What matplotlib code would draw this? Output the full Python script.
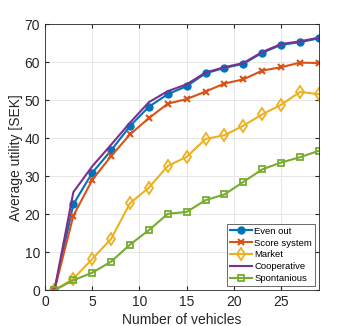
import numpy as np
import matplotlib
matplotlib.use("Agg")
import matplotlib.pyplot as plt

#==========================
# DATA
#==========================
vehicles = [1, 3, 5, 7, 9, 11, 13, 15, 17, 19, 21, 23, 25, 27, 29]

even_out = [0, 22.6, 30.9, 36.8, 43.2, 48.3, 51.6, 53.7, 57.1, 58.5, 59.6, 62.5, 64.6, 65.3, 66.3]
score_system = [0, 19.6, 29.0, 35.3, 41.0, 45.3, 49.1, 50.3, 52.3, 54.4, 55.5, 57.8, 58.7, 59.9, 59.8]
market = [0, 3.0, 8.2, 13.5, 22.9, 27.0, 32.7, 35.1, 39.8, 40.8, 43.3, 46.3, 48.8, 52.2, 51.6]
cooperative = [0, 25.8, 32.6, 38.3, 44.1, 49.5, 52.4, 54.2, 57.3, 58.7, 59.8, 62.7, 64.8, 65.5, 66.5]
spontanious = [0, 2.6, 4.6, 7.5, 12.0, 15.8, 20.1, 20.6, 23.7, 25.2, 28.5, 31.8, 33.6, 35.0, 36.7]

#==========================
# STYLE (matlab default colours)
#==========================
c_blue = (0, 0.447, 0.741)
c_orange = (0.85, 0.325, 0.098)
c_yellow = (0.929, 0.694, 0.125)
c_purple = (0.494, 0.184, 0.556)
c_green = (0.466, 0.674, 0.188)

plt.rcParams['font.family'] = ['Liberation Sans', 'DejaVu Sans']

fig = plt.figure(figsize=(3.53, 3.26), dpi=100)
ax = fig.add_axes([0.1275, 0.110, 0.776, 0.8155])

lw = 1.5
ax.plot(vehicles, even_out, color=c_blue, lw=lw, marker='o', ms=5, label='Even out')
ax.plot(vehicles, score_system, color=c_orange, lw=lw, marker='x', ms=5, mew=1.5, label='Score system')
ax.plot(vehicles, market, color=c_yellow, lw=lw, marker='d', ms=6.5, mfc='none', mew=1.3, label='Market')
ax.plot(vehicles, cooperative, color=c_purple, lw=lw, label='Cooperative')
ax.plot(vehicles, spontanious, color=c_green, lw=lw, marker='s', ms=5, mfc='none', mew=1.3, label='Spontanious')

ax.set_xlim(0, 29)
ax.set_ylim(0, 70)
ax.set_xticks([0, 5, 10, 15, 20, 25])
ax.set_yticks(np.arange(0, 71, 10))
ax.tick_params(direction='in', labelsize=10, colors='#262626', length=3, top=True, right=True, labeltop=False, labelright=False)
ax.grid(True, color='#e6e6e6', lw=0.7)
ax.set_axisbelow(True)
for s in ax.spines.values():
    s.set_color('#262626')
    s.set_linewidth(0.6)

ax.set_xlabel('Number of vehicles', fontsize=10, color='#262626', labelpad=3)
ax.set_ylabel('Average utility [SEK]', fontsize=10, color='#262626', labelpad=1)

leg = ax.legend(loc='lower right', fontsize=6.8, frameon=True, fancybox=False,
                edgecolor='#262626', handlelength=2.4, handletextpad=0.2,
                labelspacing=0.3, borderpad=0.3, borderaxespad=0.45)
leg.get_frame().set_linewidth(0.6)

fig.savefig('out.png', dpi=100)
